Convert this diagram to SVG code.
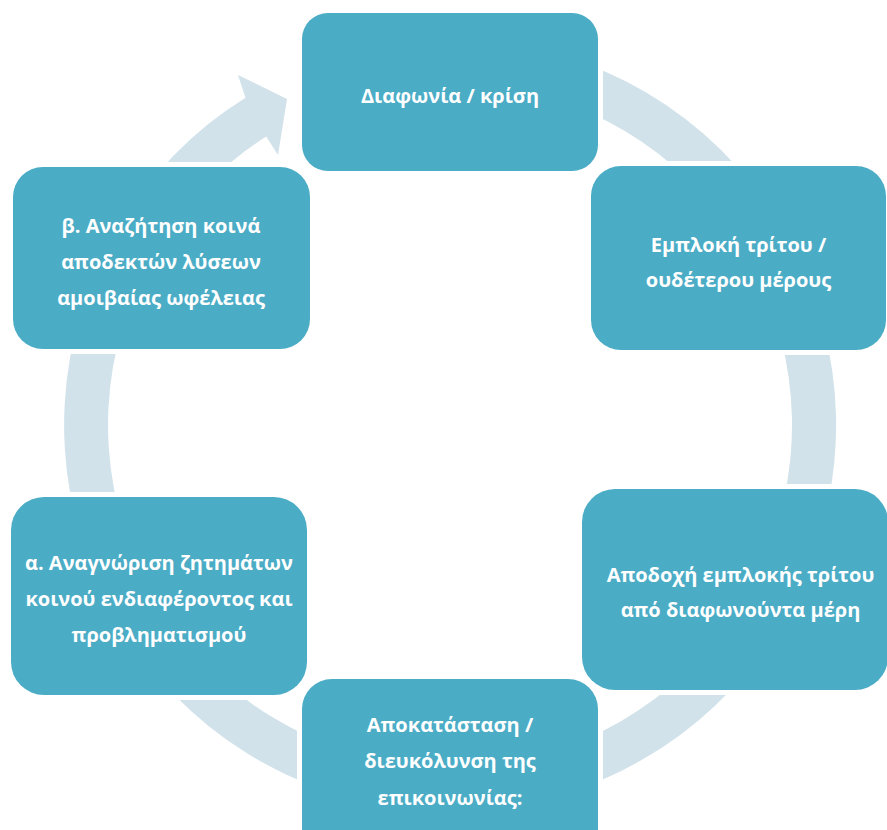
<svg xmlns="http://www.w3.org/2000/svg" width="887" height="830" viewBox="0 0 887 830">
  <style>
    .box { fill: #4BACC6; stroke: #FFFFFF; stroke-width: 10; paint-order: stroke; }
    .lbl { fill: #FFFFFF; font-family: "Open Sans", "Liberation Sans", sans-serif; font-weight: bold; font-size: 20px; text-anchor: middle; }
  </style>
  <rect x="0" y="0" width="887" height="830" fill="#FFFFFF"/>
  <g id="connectors">
    <path fill="#D1E2EA" d="M450,39 A386,386 0 1,1 245.5,97.7 L238,75 L287,99 L278,155 L266.2,136.6 A342,342 0 1,0 450,83 Z"/>
  </g>
  <g id="node-top">
    <rect class="box" x="302" y="13" width="296" height="158" rx="26"/>
    <text class="lbl" x="450" y="103">Διαφωνία / κρίση</text>
  </g>
  <g id="node-right">
    <rect class="box" x="591" y="166" width="295" height="184" rx="30"/>
    <text class="lbl" x="738.5" y="252">Εμπλοκή τρίτου /</text>
    <text class="lbl" x="738.5" y="287">ουδέτερου μέρους</text>
  </g>
  <g id="node-bottom-right">
    <rect class="box" x="582" y="489" width="306" height="201" rx="33"/>
    <text class="lbl" x="740.5" y="582">Αποδοχή εμπλοκής τρίτου</text>
    <text class="lbl" x="740.5" y="617">από διαφωνούντα μέρη</text>
  </g>
  <g id="node-bottom">
    <rect class="box" x="302" y="679" width="296" height="190" rx="30"/>
    <text class="lbl" x="450" y="732">Αποκατάσταση /</text>
    <text class="lbl" x="450" y="768">διευκόλυνση της</text>
    <text class="lbl" x="450" y="805">επικοινωνίας:</text>
  </g>
  <g id="node-bottom-left">
    <rect class="box" x="11" y="497" width="296" height="198" rx="33"/>
    <text class="lbl" x="159" y="570">α. Αναγνώριση ζητημάτων</text>
    <text class="lbl" x="159" y="606">κοινού ενδιαφέροντος και</text>
    <text class="lbl" x="159" y="642">προβληματισμού</text>
  </g>
  <g id="node-top-left">
    <rect class="box" x="13" y="167" width="297" height="182" rx="30"/>
    <text class="lbl" x="161" y="233">β. Αναζήτηση κοινά</text>
    <text class="lbl" x="161" y="269">αποδεκτών λύσεων</text>
    <text class="lbl" x="161" y="305">αμοιβαίας ωφέλειας</text>
  </g>
</svg>
